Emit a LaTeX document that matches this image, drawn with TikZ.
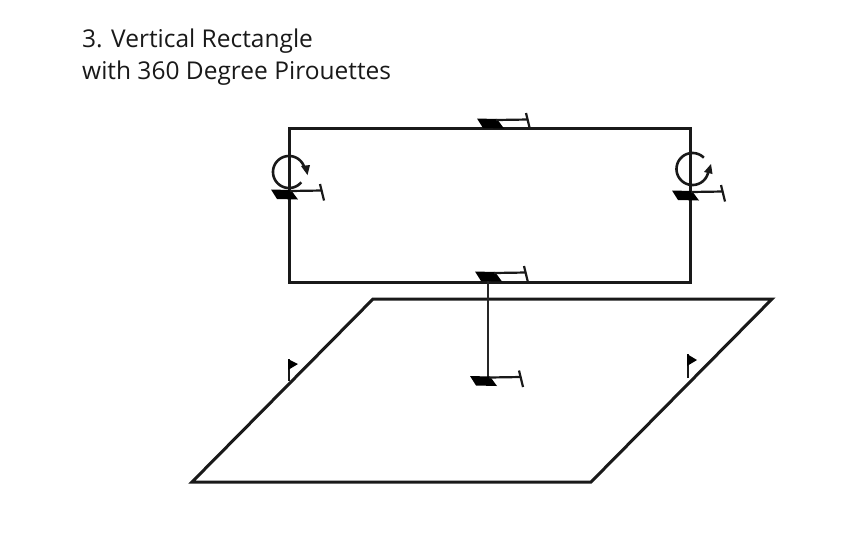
\documentclass[tikz,border=0pt]{standalone}
\usepackage{fontspec}
\setmainfont{Open Sans}
\usetikzlibrary{arrows.meta}
\tikzset{
  frameline/.style={line width=3pt,line cap=round,line join=miter,draw=black!90},
  dropline/.style={line width=1.6pt,draw=black!85},
  skier/.style={line width=2.2pt,draw=black!90},
  skibody/.style={fill=black,draw=none},
  spinarc/.style={line width=2.6pt,draw=black!90},
  spinhead/.style={fill=black!90,draw=none},
  flagmark/.style={line width=2.2pt,draw=black!90},
  title/.style={anchor=west,font=\fontsize{24.5}{29}\selectfont,text=black!90,inner sep=0pt}
}
\newcommand{\glider}[1]{%
  \begin{scope}[shift={#1}]
    \fill[skibody] (0,0) -- (20,0.5) -- (27,10) -- (6,9.5) -- cycle;
    \draw[skier] (19,1.5) -- (51,1);
    \draw[skier] (49,-5.5) -- (53,11);
  \end{scope}}
\begin{document}
\begin{tikzpicture}[x=1pt,y=-1pt]
\useasboundingbox (0,0) rectangle (850,542);
\fill[white] (0,0) rectangle (850,542);
\node[title] (t1) at (82,41) {3. Vertical Rectangle};
\node[title] (t2) at (82,73) {with 360 Degree Pirouettes};
\draw[frameline] (289,128) rectangle (690,282);
\draw[frameline] (373,299) -- (772,299) -- (591,482) -- (192,482) -- cycle;
\coordinate (dropTop) at (488,278);
\coordinate (dropBot) at (488,378);
\draw[dropline] (dropTop) -- (dropBot);
\glider{(477,118.5)}
\glider{(475,271.5)}
\glider{(470,376)}
\glider{(271,189.5)}
\glider{(672,190.5)}
% left pirouette
\draw[spinarc] plot[smooth,domain=40:345,samples=60] ({289+16*cos(\x)},{172+16*sin(\x)});
\fill[spinhead] (301,166) -- (310,165) -- (307.5,175) -- cycle;
% right pirouette
\draw[spinarc] plot[smooth,domain=-45:-348,samples=60] ({692.5+16*cos(\x)},{169+16*sin(\x)});
\fill[spinhead] (704,172) -- (712.5,174) -- (711,164) -- cycle;
% flags
\draw[flagmark] (289,381) -- (289,359);
\fill[black] (288,359) -- (298,364) -- (288,370) -- cycle;
\draw[flagmark] (688,378) -- (688,354);
\fill[black] (687,354) -- (697,360) -- (687,366) -- cycle;
\end{tikzpicture}
\end{document}
